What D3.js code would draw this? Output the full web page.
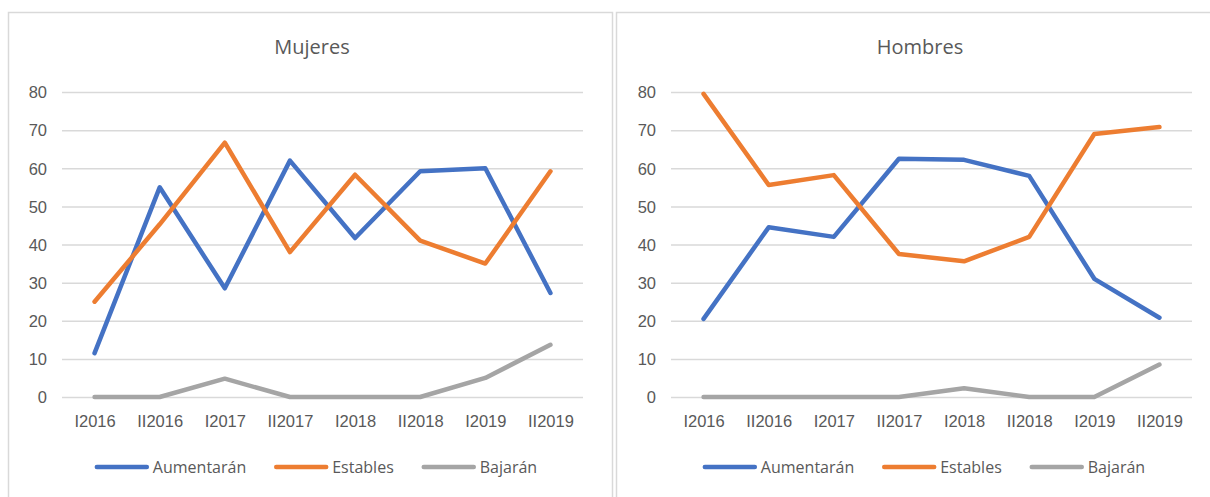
<!DOCTYPE html>
<meta charset="utf-8">
<style>

body {
  margin: 0;
  background: #fff;
}

svg {
  font-family: "Open Sans", sans-serif;
}

.axis path {
  display: none;
}

.axis line {
  stroke: #d9d9d9;
  stroke-width: 1.5;
}

.axis text {
  fill: #595959;
  font-size: 16.5px;
}

.frame {
  fill: none;
  stroke: #d9d9d9;
  stroke-width: 1.5;
}

.title {
  fill: #595959;
  font-size: 20px;
  text-anchor: middle;
}

.legend text {
  fill: #595959;
  font-size: 16px;
}

.serie {
  fill: none;
  stroke-width: 4.5;
  stroke-linejoin: round;
  stroke-linecap: round;
}

</style>
<svg width="1210" height="497"></svg>
<script src="https://d3js.org/d3.v7.min.js"></script>
<script>

var periodos = ["I2016", "II2016", "I2017", "II2017", "I2018", "II2018", "I2019", "II2019"];
var yTicks = [0, 10, 20, 30, 40, 50, 60, 70, 80];
var seriesNames = ["Aumentarán", "Estables", "Bajarán"];
var colors = ["#4472c4", "#ed7d31", "#a5a5a5"];

var mujeresAumentaran = [11.5, 55, 28.5, 62, 41.7, 59.2, 60, 27.3];
var mujeresEstables = [25, 45.3, 66.7, 38, 58.3, 41, 35, 59.2];
var mujeresBajaran = [0, 0, 4.8, 0, 0, 0, 5, 13.7];

var hombresAumentaran = [20.5, 44.5, 42, 62.5, 62.2, 58, 31, 20.8];
var hombresEstables = [79.5, 55.6, 58.2, 37.5, 35.6, 42, 69, 70.8];
var hombresBajaran = [0, 0, 0, 0, 2.3, 0, 0, 8.5];

var svg = d3.select("svg");

// panel frames
svg.append("rect").attr("class", "frame")
    .attr("x", 8.5).attr("y", 12.5).attr("width", 604).attr("height", 500);
svg.append("rect").attr("class", "frame")
    .attr("x", 616.5).attr("y", 12.5).attr("width", 620).attr("height", 500);

drawPanel(8, 62, "Mujeres", [mujeresAumentaran, mujeresEstables, mujeresBajaran]);
drawPanel(616, 671, "Hombres", [hombresAumentaran, hombresEstables, hombresBajaran]);

function drawPanel(panelX, plotX, title, values) {
  var plotW = 521,
      top = 92,
      bottom = 397,
      center = panelX + 303;

  var x = d3.scalePoint()
      .domain(periodos)
      .range([plotX, plotX + plotW])
      .padding(0.5);

  var y = d3.scaleLinear()
      .domain([0, 80])
      .range([bottom, top]);

  var g = svg.append("g");

  g.append("text")
      .attr("class", "title")
      .attr("x", center + 1)
      .attr("y", 54)
      .text(title);

  g.append("g")
      .attr("class", "axis")
      .attr("transform", "translate(" + plotX + ",0)")
      .call(d3.axisLeft(y)
          .tickValues(yTicks)
          .tickSize(-plotW)
          .tickPadding(15))
      .selectAll("text")
      .attr("dy", "0.35em");

  var xAxis = g.append("g")
      .attr("class", "axis")
      .attr("transform", "translate(0," + bottom + ")")
      .call(d3.axisBottom(x).tickSize(0).tickPadding(18));
  xAxis.selectAll("line").remove();

  var line = d3.line()
      .x(function(d, i) { return x(periodos[i]); })
      .y(function(d) { return y(d); });

  values.forEach(function(v, i) {
    g.append("path")
        .attr("class", "serie")
        .attr("stroke", colors[i])
        .attr("d", line(v));
  });

  // legend, centred under the panel
  var legend = g.append("g").attr("class", "legend");
  var offset = 0;
  seriesNames.forEach(function(name, i) {
    var item = legend.append("g").attr("transform", "translate(" + offset + ",0)");
    item.append("line")
        .attr("class", "serie")
        .attr("stroke", colors[i])
        .attr("x1", 2).attr("x2", 52)
        .attr("y1", 0).attr("y2", 0);
    var t = item.append("text")
        .attr("x", 58)
        .attr("dy", "0.35em")
        .text(name);
    offset += 58 + t.node().getComputedTextLength() + 28;
  });
  var legendW = offset - 28;
  legend.attr("transform", "translate(" + (center + 5 - legendW / 2) + ",467)");
}

</script>
